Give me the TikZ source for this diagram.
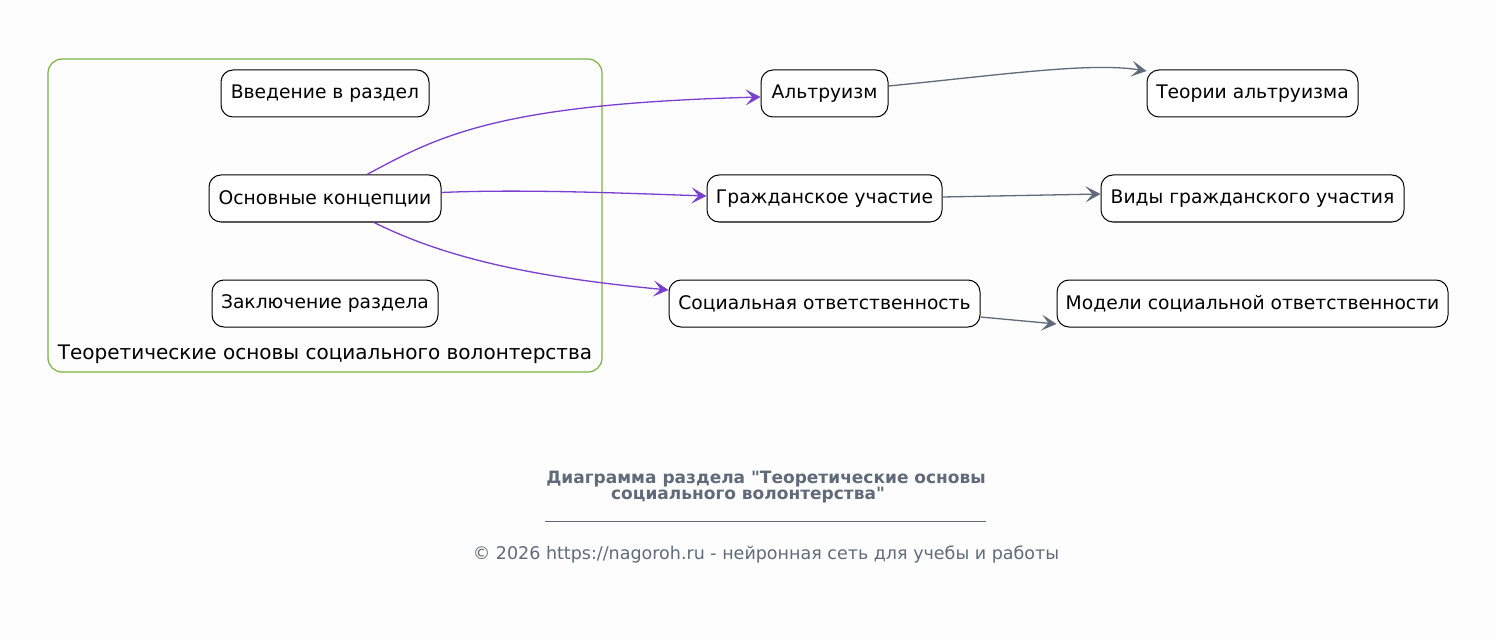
\documentclass[tikz,border=0pt]{standalone}
\usepackage{fontspec}
\setmainfont{DejaVu Sans}
\newfontfamily\rawfont{DejaVu Sans}
\usetikzlibrary{arrows.meta}
\definecolor{bg}{HTML}{FDFDFD}
\definecolor{clgreen}{HTML}{7CB342}
\definecolor{purp}{HTML}{7B3FD0}
\definecolor{slate}{HTML}{5F6B7A}
\tikzset{
  box/.style={draw=black, line width=1pt, rounded corners=12pt, fill=white, minimum height=47pt, inner xsep=3pt, font=\fontsize{18.7}{22}\selectfont, anchor=center},
  purpedge/.style={draw=purp, line width=1.3pt, -{Stealth[length=15pt,width=16pt,inset=7pt]}},
  grayedge/.style={draw=slate, line width=1.3pt, -{Stealth[length=15pt,width=16pt,inset=7pt]}},
}
\begin{document}
\begin{tikzpicture}[x=1pt,y=-1pt]
\useasboundingbox[fill=bg] (0,0) rectangle (1496,639);
\node[draw=clgreen, line width=1.2pt, rounded corners=14pt, minimum width=554pt, minimum height=313pt] (cluster) at (325,215.5) {};
\node[font=\fontsize{20}{22}\selectfont] (cllabel) at (325,354) {Теоретические основы социального волонтерства};
\node[box, minimum width=208pt] (intro) at (325,93.5) {Введение в раздел};
\node[box, minimum width=232pt] (main) at (325,198.5) {Основные концепции};
\node[box, minimum width=226pt] (concl) at (325,303.5) {Заключение раздела};
\node[box, minimum width=127pt] (alt) at (824.5,93.5) {Альтруизм};
\node[box, minimum width=235pt] (civ) at (824.5,198.5) {Гражданское участие};
\node[box, minimum width=311pt] (soc) at (824.5,303.5) {Социальная ответственность};
\node[box, minimum width=211pt] (talt) at (1252.5,93.5) {Теории альтруизма};
\node[box, minimum width=303pt] (vciv) at (1252.5,198.5) {Виды гражданского участия};
\node[box, minimum width=391pt] (msoc) at (1252.5,303.5) {Модели социальной ответственности};

\draw[purpedge] (main.north) ++(42,0) .. controls (440,135) and (500,104) .. (alt.west |- 0,97);
\draw[purpedge] (main.east) ++(0,-6) .. controls (520,189) and (620,193) .. (civ.west |- 0,196);
\draw[purpedge] (main.south) ++(49,0) .. controls (440,255) and (520,276) .. (soc.west |- 0,290);

\draw[grayedge] (alt.east |- 0,86) .. controls (1000,75) and (1090,62) .. (talt.west |- 0,71);
\draw[grayedge] (civ.east |- 0,197) -- (vciv.west |- 0,194);
\draw[grayedge] (soc.east |- 0,317) -- (msoc.west |- 0,324);

\node[font=\rawfont\bfseries\fontsize{17}{19}\selectfont, text=slate] (t1) at (766,479) {Диаграмма раздела "Теоретические основы};
\node[font=\rawfont\bfseries\fontsize{17}{19}\selectfont, text=slate] (t2) at (748,495) {социального волонтерства"};
\coordinate (la) at (545,521);
\coordinate (lb) at (986,521);
\draw[slate, line width=0.6pt] (la) -- (lb);
\node[font=\fontsize{17.5}{20}\selectfont, text=slate] (copy) at (766,555) {© 2026 https://nagoroh.ru - нейронная сеть для учебы и работы};
\end{tikzpicture}
\end{document}
